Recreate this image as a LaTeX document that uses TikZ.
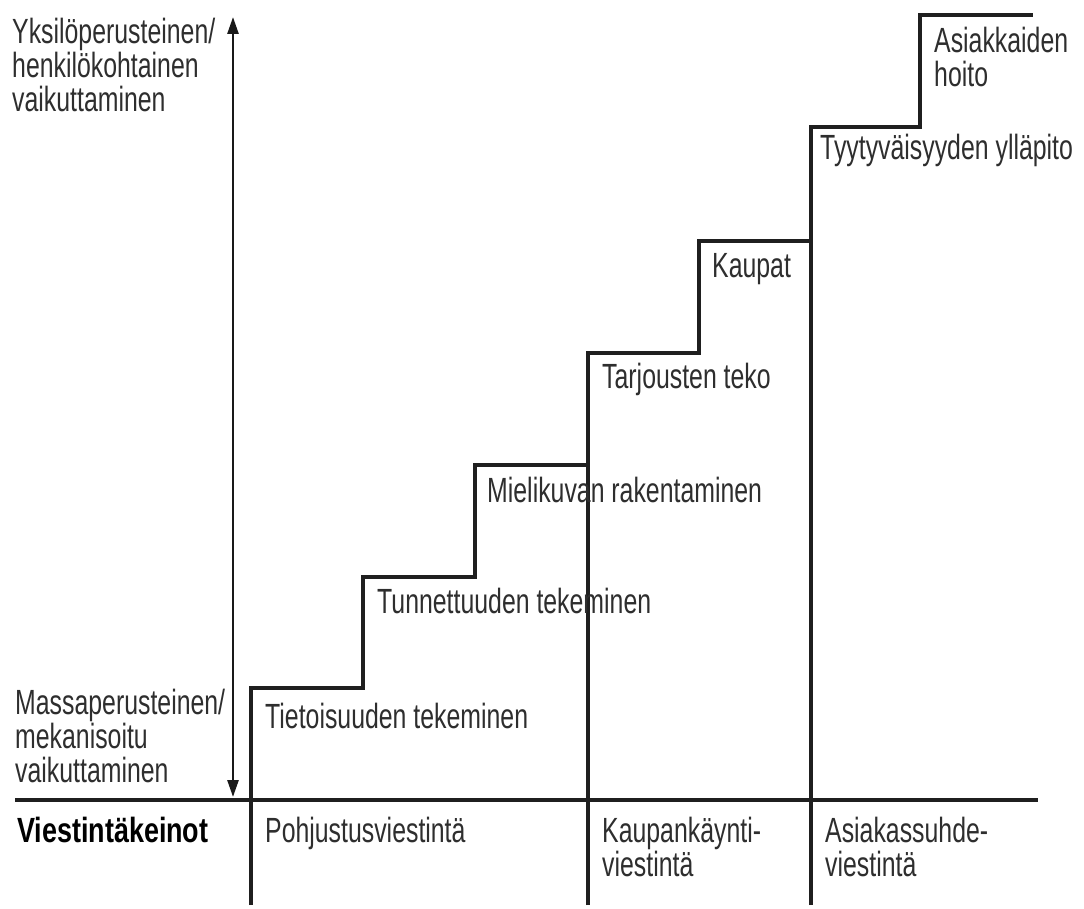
\documentclass[tikz,border=0pt]{standalone}
\usepackage{fontspec}
\setmainfont{Liberation Sans}[FakeStretch=0.71, BoldFeatures={FakeStretch=0.77}]
\usetikzlibrary{arrows.meta}
\begin{document}
\begin{tikzpicture}[x=1pt,y=-1pt,
  lbl/.style={anchor=base west, inner sep=0pt, align=left, text=black!82,
    font=\fontsize{35}{34}\selectfont},
  stair/.style={draw=black!88, line width=3.2pt, line join=miter},
  axisarrow/.style={draw=black!90, line width=2.6pt, {Triangle[length=17pt,width=11pt]}-{Triangle[length=17pt,width=11pt]}}]
\useasboundingbox (0,0) rectangle (1084,909);
\fill[white] (0,0) rectangle (1084,909);

% staircase
\draw[stair] (251,905) -- (251,688) -- (363,688) -- (363,577) -- (475,577) -- (475,465) -- (588,465);
\draw[stair] (588,905) -- (588,353) -- (699,353) -- (699,241) -- (811,241);
\draw[stair] (811,905) -- (811,127) -- (920,127) -- (920,15) -- (1033,15);
% base line
\coordinate (bl) at (15,800);
\coordinate (br) at (1038,800);
\draw[stair] (bl) -- (br);
% axis arrow
\coordinate (atop) at (233,17);
\coordinate (abot) at (233,797);
\draw[axisarrow] (abot) -- (atop);

% axis labels (multi-line nodes: base = last line)
\node[lbl] (ytop) at (12,112) {Yksilöperusteinen/\\henkilökohtainen\\vaikuttaminen};
\node[lbl] (ybot) at (15,782) {Massaperusteinen/\\mekanisoitu\\vaikuttaminen};
\node[lbl, font=\fontsize{35}{34}\selectfont\bfseries, text=black] (keino) at (17,842) {Viestintäkeinot};

% steps
\node[lbl] (s1) at (265,728) {Tietoisuuden tekeminen};
\node[lbl] (s2) at (377,613) {Tunnettuuden tekeminen};
\node[lbl] (s3) at (487,502) {Mielikuvan rakentaminen};
\node[lbl] (s4) at (602,388) {Tarjousten teko};
\node[lbl] (s5) at (712,278) {Kaupat};
\node[lbl] (s6) at (820,160) {Tyytyväisyyden ylläpito};
\node[lbl] (s7) at (934,87) {Asiakkaiden\\hoito};

% communication types
\node[lbl] (c1) at (265,842) {Pohjustusviestintä};
\node[lbl] (c2) at (602,876) {Kaupankäynti-\\viestintä};
\node[lbl] (c3) at (825,876) {Asiakassuhde-\\viestintä};
\end{tikzpicture}
\end{document}
